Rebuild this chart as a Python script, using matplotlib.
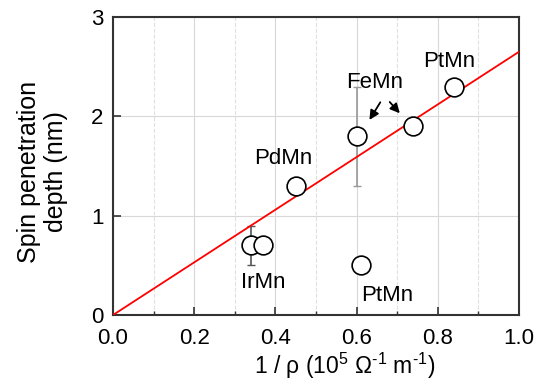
import numpy as np
import matplotlib.pyplot as plt
from matplotlib.ticker import MultipleLocator

plt.rcParams['font.family'] = ['Liberation Sans', 'DejaVu Sans']
plt.rcParams['mathtext.fontset'] = 'custom'
plt.rcParams['mathtext.rm'] = 'Liberation Sans'

# measured points (1/rho, depth)
x_pts = [0.34, 0.37, 0.45, 0.60, 0.74, 0.84, 0.61]
y_pts = [0.70, 0.70, 1.30, 1.80, 1.90, 2.30, 0.50]

# error bars: IrMn and FeMn
x_err = [0.34, 0.60]
y_err = [0.70, 1.80]
err_lo = [0.20, 0.50]
err_hi = [0.20, 0.50]
err_colors = ['#555555', '#999999']

# linear fit through origin
slope = 2.65
x_fit = [0.0, 1.0]
y_fit = [slope * v for v in x_fit]

fig = plt.figure(figsize=(5.49, 3.9), dpi=100)
ax = fig.add_axes([113/549, 1 - 315/390, 406/549, 298/390])

ax.plot(x_fit, y_fit, color='red', lw=1.3, zorder=3)

for xe, ye, lo, hi, c in zip(x_err, y_err, err_lo, err_hi, err_colors):
    ax.errorbar([xe], [ye], yerr=[[lo], [hi]], fmt='none', ecolor=c,
                elinewidth=1.2, capsize=3, capthick=1.0, zorder=2)

ax.plot(x_pts, y_pts, 'o', ms=13.5, mfc='white', mec='black', mew=1.2,
        zorder=4, clip_on=False)

fs = 16
ax.text(0.828, 2.55, 'PtMn', ha='center', va='center', fontsize=fs)
ax.text(0.645, 2.34, 'FeMn', ha='center', va='center', fontsize=fs)
ax.text(0.419, 1.58, 'PdMn', ha='center', va='center', fontsize=fs)
ax.text(0.37, 0.33, 'IrMn', ha='center', va='center', fontsize=fs)
ax.text(0.675, 0.20, 'PtMn', ha='center', va='center', fontsize=fs)

ax.annotate('', xy=(0.628, 1.94), xytext=(0.662, 2.165),
            arrowprops=dict(arrowstyle='-|>', color='black', lw=1.3,
                            mutation_scale=14))
ax.annotate('', xy=(0.711, 2.01), xytext=(0.677, 2.165),
            arrowprops=dict(arrowstyle='-|>', color='black', lw=1.3,
                            mutation_scale=14))

ax.set_xlim(0, 1.0)
ax.set_ylim(0, 3)
ax.xaxis.set_major_locator(MultipleLocator(0.2))
ax.xaxis.set_minor_locator(MultipleLocator(0.1))
ax.yaxis.set_major_locator(MultipleLocator(1))
ax.xaxis.set_major_formatter(plt.FormatStrFormatter('%.1f'))

ax.grid(which='major', color='#d8d8d8', lw=0.8, ls='-')
ax.grid(which='minor', axis='x', color='#e0e0e0', lw=0.8, ls='--')
ax.set_axisbelow(True)

ax.tick_params(which='major', direction='in', length=6, width=1.2,
               labelsize=16, color='#333333')
ax.tick_params(axis='x', which='major', pad=9)
ax.tick_params(axis='y', which='major', pad=7)
ax.tick_params(which='minor', direction='in', length=3, width=1.0,
               color='#333333')
ax.tick_params(axis='y', which='minor', length=0)
for s in ax.spines.values():
    s.set_color('#333333')
    s.set_linewidth(1.5)

ax.set_xlabel('1 / \u03c1 (10$^{5}$ \u03a9$^{\u2010 1}$ m$^{\u2010 1}$)', fontsize=16.5)
ax.xaxis.set_label_coords(0.571, -0.12)
ax.set_ylabel('Spin penetration\ndepth (nm)', fontsize=18)
ax.yaxis.set_label_coords(-0.11, 0.48)

fig.savefig('out.png', dpi=100)
